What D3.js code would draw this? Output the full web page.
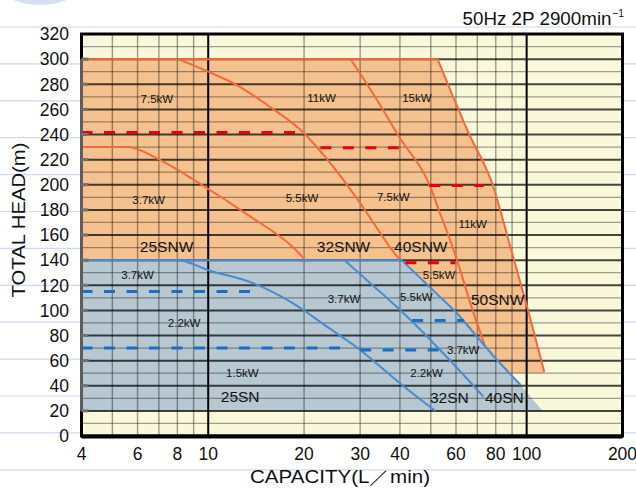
<!DOCTYPE html>
<html>
<head>
<meta charset="utf-8">
<script src="https://cdn.jsdelivr.net/npm/d3@7"></script>
<style>
  body { margin: 0; background: #fff; }
  text { font-family: "Liberation Sans", Arial, sans-serif; fill: #111; }
</style>
</head>
<body>
<script>

// *** DATA ***

// axis ticks
var xTicks = [4, 6, 8, 10, 20, 30, 40, 60, 80, 100, 200];
var xGridMinor = [5, 6, 7, 8, 9, 20, 30, 40, 50, 60, 70, 80, 90];
var xGridMajor = [10, 100];
var yTicks = [0, 20, 40, 60, 80, 100, 120, 140, 160, 180, 200, 220, 240, 260, 280, 300, 320];
var yGridMinor = [10, 30, 50, 70, 90, 110, 130, 150, 170, 190, 210, 230, 250, 270, 290, 310];
var yStubs = [20, 40, 60, 80, 100, 120, 140, 160, 180, 200, 220, 240, 260, 280, 300];

// SNW range (orange): flat top at 300, right edge, bottom at 50
var snwTop = 300, snwBottom = 50;
var snwEdge = [[52.5, 300], [65.5, 242], [78.2, 200], [89, 150], [100.3, 103], [113.6, 51]];

// SN range (blue): flat top at 140, right edge, bottom at 20
var snTop = 140, snBottom = 20;
var snEdge = [[40.5, 140], [60.5, 97.7], [79, 63.1], [95.7, 40.6], [112.3, 20]];

// motor output boundaries inside SNW
var snwCurve1 = [[4, 230], [5.6, 230], [6.9, 221], [9.4, 201], [13.5, 175], [18.5, 150], [20.2, 140]];
var snwCurve2 = [[8.05, 300], [10, 290], [12.3, 279.4], [15.6, 262.1], [20, 241], [23.5, 221], [30, 185.5], [37.3, 150], [40, 140]];
var snwCurve3 = [[28, 300], [33.9, 267.5], [39.8, 238], [49.9, 198], [53.5, 177], [57.5, 156], [60.6, 139], [66.5, 106], [74.1, 71]];

// motor output boundaries inside SN
var snCurve1 = [[4, 140], [8.05, 140], [10, 132], [13.9, 121.5], [20, 100], [22.4, 91], [30, 68.5], [40, 42], [51.6, 20]];
var snCurve2 = [[26.9, 139.5], [32.3, 121.6], [39, 103], [53.5, 68.5], [73.2, 31.3]];

// dashed head limits [x0, x1, head]
var redDashes = [[4, 19.2, 241.5], [22.5, 40, 229.5], [49.5, 73.3, 199.5], [41.6, 59.7, 138]];
var blueDashes = [[4, 13.9, 115], [4, 27, 70], [30, 53.6, 68.5], [43.7, 63.5, 92]];

// labels [text, x, head]
var kwLabels = [
	["7.5kW", 6.9, 268], ["11kW", 22.7, 269], ["15kW", 45.2, 269],
	["3.7kW", 6.5, 188], ["5.5kW", 19.7, 189.5], ["7.5kW", 38.1, 190.5], ["11kW", 67.7, 169],
	["5.5kW", 53.1, 128], ["3.7kW", 6.0, 128], ["3.7kW", 26.7, 109], ["5.5kW", 45, 110.4],
	["2.2kW", 8.4, 90], ["3.7kW", 63.2, 68.5], ["1.5kW", 12.8, 50.4], ["2.2kW", 48.5, 50]
];
var modelLabels = [
	["25SNW", 7.4, 150.5], ["32SNW", 26.6, 150.7], ["40SNW", 46.5, 150.7], ["50SNW", 81.1, 109],
	["25SN", 12.6, 31.3], ["32SN", 57.2, 30.8], ["40SN", 85.1, 30.8]
];

// *** SETUP ***

var W = 636, H = 489;

var svg = d3.select("body").append("svg")
	.attr("width", W)
	.attr("height", H);

var x = d3.scaleLog().domain([4, 200]).range([81.5, 622.5]);
var y = d3.scaleLinear().domain([0, 320]).range([436, 34]);

var lineM = d3.line().x(function(d){ return x(d[0]); }).y(function(d){ return y(d[1]); }).curve(d3.curveMonotoneX);
var lineL = d3.line().x(function(d){ return x(d[0]); }).y(function(d){ return y(d[1]); });

// page decoration (ruled paper + circle)
svg.append("circle")
	.attr("cx", 40).attr("cy", -70).attr("r", 75)
	.style("fill", "#d6e0f0");

svg.selectAll(".pageline").data(d3.range(13)).enter()
	.append("line")
	.attr("x1", 0).attr("x2", W)
	.attr("y1", function(d){ return 27 + d * 36.9; })
	.attr("y2", function(d){ return 27 + d * 36.9; })
	.style("stroke", "#cddaf0").style("stroke-width", 1.2);

// title
svg.append("text")
	.attr("x", 611.5).attr("y", 25)
	.attr("text-anchor", "end")
	.attr("textLength", 149).attr("lengthAdjust", "spacingAndGlyphs")
	.style("font-size", "17.5px")
	.text("50Hz 2P 2900min");
svg.append("text")
	.attr("x", 612).attr("y", 17)
	.style("font-size", "10.5px")
	.text("\u22121");

// plot background
svg.append("rect")
	.attr("x", x(4)).attr("y", y(320))
	.attr("width", x(200) - x(4)).attr("height", y(0) - y(320))
	.style("fill", "#faf8da");

// *** REGIONS ***

var snwLast = snwEdge[snwEdge.length - 1];
svg.append("path")
	.attr("d", "M" + x(4) + "," + y(snwTop) + "L" + lineM(snwEdge).slice(1) +
		"L" + x(snwLast[0]) + "," + y(snwBottom) + "L" + x(4) + "," + y(snwBottom) + "Z")
	.style("fill", "#f5c18f");

svg.append("path")
	.attr("d", "M" + x(4) + "," + y(snTop) + "L" + lineL(snEdge).slice(1) +
		"L" + x(4) + "," + y(snBottom) + "Z")
	.style("fill", "#b8c8d3");

// *** GRID ***

var grid = svg.append("g");

grid.selectAll(".hmin").data(yGridMinor).enter().append("line")
	.attr("x1", x(4)).attr("x2", x(200))
	.attr("y1", function(d){ return y(d); }).attr("y2", function(d){ return y(d); })
	.style("stroke", "#000").style("stroke-opacity", 0.36).style("stroke-width", 1.3);

grid.selectAll(".hmaj").data(yTicks.slice(1, -1)).enter().append("line")
	.attr("x1", x(4)).attr("x2", x(200))
	.attr("y1", function(d){ return y(d); }).attr("y2", function(d){ return y(d); })
	.style("stroke", "#000").style("stroke-opacity", 0.72).style("stroke-width", 2);

grid.selectAll(".vmin").data(xGridMinor).enter().append("line")
	.attr("y1", y(0)).attr("y2", y(320))
	.attr("x1", function(d){ return x(d); }).attr("x2", function(d){ return x(d); })
	.style("stroke", "#000").style("stroke-opacity", 0.38).style("stroke-width", 1.4);

grid.selectAll(".vmaj").data(xGridMajor).enter().append("line")
	.attr("y1", y(0)).attr("y2", y(320))
	.attr("x1", function(d){ return x(d); }).attr("x2", function(d){ return x(d); })
	.style("stroke", "#000").style("stroke-width", 2);

// *** CURVES ***

var orange = "#f26b3a", blue = "#4a8bd0";

[snwCurve1, snwCurve2, snwCurve3].forEach(function(c){
	svg.append("path").attr("d", lineM(c))
		.style("fill", "none").style("stroke", orange).style("stroke-width", 2);
});

// SNW outline: top + right edge
svg.append("path")
	.attr("d", "M" + x(4) + "," + y(snwTop) + "L" + lineM(snwEdge).slice(1))
	.style("fill", "none").style("stroke", orange).style("stroke-width", 2);

[snCurve1, snCurve2].forEach(function(c){
	svg.append("path").attr("d", lineM(c))
		.style("fill", "none").style("stroke", blue).style("stroke-width", 2);
});

// SN outline: top + right edge (last leg not stroked)
svg.append("path")
	.attr("d", "M" + x(4) + "," + y(snTop) + "L" + lineL(snEdge.slice(0, -1)).slice(1))
	.style("fill", "none").style("stroke", blue).style("stroke-width", 2);

// dashed lines
svg.selectAll(".rdash").data(redDashes).enter().append("line")
	.attr("x1", function(d){ return x(d[0]); }).attr("x2", function(d){ return x(d[1]); })
	.attr("y1", function(d){ return y(d[2]); }).attr("y2", function(d){ return y(d[2]); })
	.style("stroke", "#e60012").style("stroke-width", 3).style("stroke-dasharray", "11,11.5");

svg.selectAll(".bdash").data(blueDashes).enter().append("line")
	.attr("x1", function(d){ return x(d[0]); }).attr("x2", function(d){ return x(d[1]); })
	.attr("y1", function(d){ return y(d[2]); }).attr("y2", function(d){ return y(d[2]); })
	.style("stroke", "#1a6fc2").style("stroke-width", 3).style("stroke-dasharray", "11,11.5");

// *** LABELS ***

svg.selectAll(".kw").data(kwLabels).enter().append("text")
	.attr("x", function(d){ return x(d[1]); })
	.attr("y", function(d){ return y(d[2]) + 4; })
	.attr("text-anchor", "middle")
	.style("font-size", "11.5px")
	.text(function(d){ return d[0]; });

svg.selectAll(".model").data(modelLabels).enter().append("text")
	.attr("x", function(d){ return x(d[1]); })
	.attr("y", function(d){ return y(d[2]) + 5.5; })
	.attr("text-anchor", "middle")
	.style("font-size", "15.5px")
	.text(function(d){ return d[0]; });

// *** FRAME ***

svg.append("rect")
	.attr("x", x(4)).attr("y", y(320))
	.attr("width", x(200) - x(4)).attr("height", y(0) - y(320))
	.style("fill", "none").style("stroke", "#000").style("stroke-width", 3);

svg.append("line")
	.attr("x1", x(4)).attr("x2", x(200))
	.attr("y1", y(0) + 0.5).attr("y2", y(0) + 0.5)
	.style("stroke", "#000").style("stroke-width", 4);

svg.append("line")
	.attr("x1", x(4)).attr("x2", x(4))
	.attr("y1", y(snBottom)).attr("y2", y(snwTop))
	.style("stroke", "#5d5d5d").style("stroke-width", 3);

svg.selectAll(".stub").data(yStubs).enter().append("line")
	.attr("x1", x(4)).attr("x2", x(4) + 7)
	.attr("y1", function(d){ return y(d); }).attr("y2", function(d){ return y(d); })
	.style("stroke", "#707070").style("stroke-width", 3);

// *** AXES TEXT ***

svg.selectAll(".ytick").data(yTicks).enter().append("text")
	.attr("x", 69)
	.attr("y", function(d){ return y(d) + 6.3; })
	.attr("text-anchor", "end")
	.style("font-size", "17.5px")
	.text(function(d){ return d; });

svg.selectAll(".xtick").data(xTicks).enter().append("text")
	.attr("x", function(d){ return x(d); })
	.attr("y", 460)
	.attr("text-anchor", "middle")
	.style("font-size", "17.5px")
	.text(function(d){ return d; });

svg.append("text")
	.attr("x", 340).attr("y", 482.5)
	.attr("text-anchor", "middle")
	.attr("textLength", 180).attr("lengthAdjust", "spacingAndGlyphs")
	.style("font-size", "18px")
	.text("CAPACITY(L\uFF0Fmin)");

svg.append("text")
	.attr("transform", "translate(25,220) rotate(-90)")
	.attr("text-anchor", "middle")
	.attr("textLength", 155).attr("lengthAdjust", "spacingAndGlyphs")
	.style("font-size", "18px")
	.text("TOTAL HEAD(m)");

</script>
</body>
</html>
